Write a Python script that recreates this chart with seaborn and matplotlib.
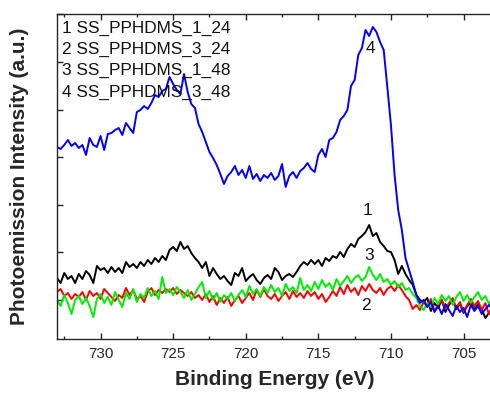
import numpy as np
import pandas as pd
import seaborn as sns
import matplotlib.pyplot as plt
from matplotlib.ticker import MultipleLocator

sns.set_style('ticks')
plt.rcParams['font.family'] = ['Liberation Sans', 'DejaVu Sans']

# binding energy grid (eV), 0.25 eV steps from 733 down to 703
energy = np.arange(733.0, 702.9, -0.25)

labels = ['1 SS_PPHDMS_1_24', '2 SS_PPHDMS_3_24', '3 SS_PPHDMS_1_48', '4 SS_PPHDMS_3_48']
colors = ['black', 'red', '#00ee00', 'blue']

# intensities (a.u.)
s1 = [61, 56, 66, 60, 63, 56, 65, 60, 68, 64,
      56, 73, 69, 71, 66, 72, 67, 71, 66, 77,
      72, 75, 71, 77, 73, 79, 75, 81, 77, 83,
      79, 89, 92, 88, 97, 90, 93, 86, 81, 77,
      71, 77, 63, 71, 65, 60, 63, 58, 54, 66,
      63, 71, 58, 62, 65, 59, 55, 61, 64, 60,
      71, 67, 59, 63, 65, 62, 67, 73, 77, 74,
      79, 75, 79, 73, 81, 78, 83, 81, 87, 82,
      90, 95, 92, 100, 103, 107, 114, 103, 106, 97,
      93, 88, 87, 79, 65, 73, 65, 59, 54, 44,
      39, 37, 41, 28, 36, 31, 39, 27, 34, 39,
      30, 35, 26, 33, 37, 29, 35, 30, 21, 26,
      31]
s2 = [47, 50, 43, 46, 40, 45, 42, 47, 39, 48,
      43, 46, 40, 50, 46, 42, 38, 44, 41, 51,
      44, 49, 40, 43, 37, 47, 51, 44, 49, 46,
      50, 47, 51, 45, 49, 46, 43, 47, 41, 44,
      39, 45, 37, 43, 34, 41, 36, 42, 33, 39,
      43, 36, 41, 46, 39, 49, 42, 50, 43, 40,
      45, 38, 43, 47, 40, 48, 42, 46, 41, 48,
      43, 47, 40, 45, 37, 42, 48, 43, 52, 45,
      54, 47, 51, 44, 53, 48, 55, 49, 46, 51,
      44, 50, 53, 48, 54, 49, 43, 39, 30, 34,
      29, 37, 32, 40, 28, 34, 39, 30, 36, 41,
      31, 37, 27, 34, 40, 33, 38, 29, 36, 25,
      31]
s3 = [39, 33, 44, 36, 25, 39, 43, 35, 41, 33,
      22, 40, 45, 36, 42, 34, 47, 39, 32, 46,
      40, 50, 37, 45, 41, 51, 43, 48, 40, 62,
      46, 50, 44, 52, 47, 41, 49, 39, 45, 52,
      57, 41, 48, 39, 46, 37, 44, 40, 46, 38,
      44, 49, 42, 53, 45, 50, 43, 52, 46, 54,
      47, 51, 43, 55, 48, 52, 46, 61, 49, 54,
      48, 57, 50, 59, 52, 56, 49, 60, 53, 58,
      63, 56, 61, 64, 58, 62, 72, 64, 59, 65,
      57, 60, 54, 58, 52, 56, 49, 51, 45, 41,
      33, 29, 36, 32, 41, 35, 44, 38, 43, 34,
      42, 47, 38, 44, 36, 42, 47, 39, 43, 35,
      41]
s4 = [192, 190, 194, 199, 193, 196, 191, 194, 184, 201,
      194, 192, 203, 189, 205, 206, 209, 211, 204, 216,
      211, 206, 227, 229, 233, 230, 236, 244, 242, 248,
      250, 262, 255, 249, 245, 265, 247, 235, 231, 215,
      207, 197, 187, 181, 174, 165, 155, 163, 167, 173,
      164, 169, 161, 173, 160, 165, 158, 164, 161, 166,
      159, 163, 175, 152, 163, 167, 161, 168, 171, 176,
      170, 167, 184, 190, 182, 199, 201, 207, 219, 223,
      229, 253, 259, 284, 291, 309, 303, 312, 307, 297,
      289, 252, 214, 164, 129, 109, 81, 69, 57, 44,
      36, 39, 32, 37, 27, 33, 25, 35, 29, 23,
      33, 27, 31, 22, 34, 28, 33, 25, 30, 34,
      29]

# curve tags placed next to the peaks
tag_text = ['1', '2', '3', '4']
tag_x = [711.6, 711.7, 711.5, 711.4]
tag_y = [128, 34, 83, 290]

df = pd.DataFrame({
    'energy': np.tile(energy, 4),
    'intensity': s1 + s2 + s3 + s4,
    'sample': np.repeat(labels, len(energy)),
})

fig = plt.figure(figsize=(4.9, 3.93), dpi=100)
ax = fig.add_axes([0.1163, 0.1374, 0.889, 0.827])
sns.lineplot(data=df, x='energy', y='intensity', hue='sample', palette=colors,
             estimator=None, lw=1.4, legend=False, ax=ax)

for i, lab in enumerate(labels):
    ax.text(0.012, 0.957 - i * 0.066, lab, transform=ax.transAxes,
            fontsize=12.4, va='center', ha='left', color='#111111')
for t, x, y in zip(tag_text, tag_x, tag_y):
    ax.text(x, y, t, fontsize=12.4, ha='center', va='center', color='#111111')

ax.set_xlim(733, 703)
ax.set_ylim(0, 325)
ax.xaxis.set_major_locator(MultipleLocator(5))
ax.xaxis.set_minor_locator(MultipleLocator(2.5))
ax.set_yticks(np.arange(39, 326, 47.6))
ax.set_yticklabels([])
ax.tick_params(axis='both', which='both', direction='in', top=True, right=False, width=1)
ax.tick_params(axis='both', which='major', length=4.5, labelsize=11, pad=6)
ax.tick_params(axis='both', which='minor', length=2.5)
for sp in ax.spines.values():
    sp.set_linewidth(1.0)

ax.set_xlabel('Binding Energy (eV)', fontsize=15, fontweight='bold', labelpad=6)
ax.set_ylabel('Photoemission Intensity (a.u.)', fontsize=15, fontweight='bold', labelpad=14)

fig.savefig('out.png', dpi=100)
